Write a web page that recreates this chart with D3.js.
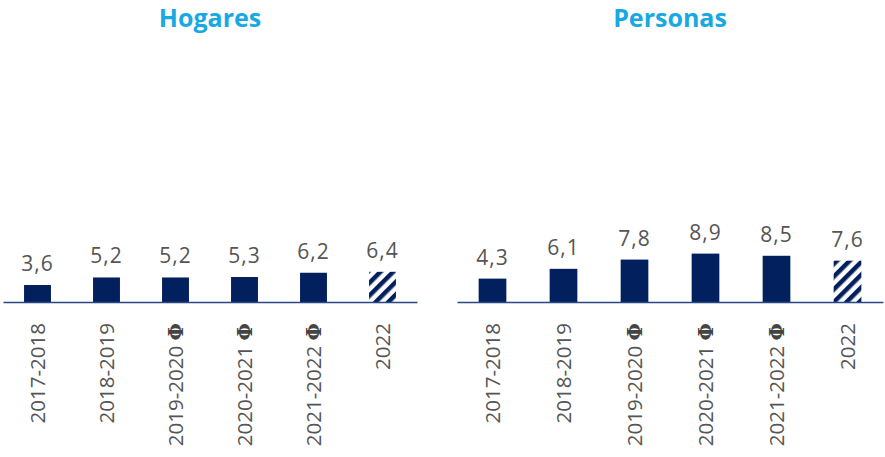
<!DOCTYPE html>
<html>
<head>
<meta charset="utf-8">
<script src="https://cdn.jsdelivr.net/npm/d3@7"></script>
<style>
  body { margin: 0; background: #fff; }
  text { font-family: "Open Sans", "Noto Sans", sans-serif; }
</style>
</head>
<body>
<svg width="885" height="457"></svg>
<script>
const categories = ["2017-2018", "2018-2019", "2019-2020 Φ", "2020-2021 Φ", "2021-2022 Φ", "2022"];
const hogares = [3.6, 5.2, 5.2, 5.3, 6.2, 6.4];
const personas = [4.3, 6.1, 7.8, 8.9, 8.5, 7.6];
const hatched = ["2022"];

const navy = "#03205e",
      titleColor = "#18a9e3",
      textColor = "#555555";

const svg = d3.select("svg");
const baseline = 302;

// diagonal stripes for the last (provisional) year
svg.append("defs").append("pattern")
    .attr("id", "hatch")
    .attr("patternUnits", "userSpaceOnUse")
    .attr("width", 9)
    .attr("height", 9)
    .attr("patternTransform", "rotate(45)")
    .append("rect")
    .attr("width", 4.5)
    .attr("height", 9)
    .attr("fill", navy);

const fmt = v => d3.format(".1f")(v).replace(".", ",");

function panel(title, values, x0, x1, yMax) {
    const g = svg.append("g");

    const x = d3.scaleBand()
        .domain(categories)
        .range([x0, x1])
        .paddingInner(0.61)
        .paddingOuter(0.305);

    const y = d3.scaleLinear()
        .domain([0, yMax])
        .range([baseline, 60]);

    g.append("text")
        .attr("x", (x0 + x1) / 2)
        .attr("y", 27)
        .attr("text-anchor", "middle")
        .style("font-size", "25px")
        .style("font-weight", "bold")
        .style("fill", titleColor)
        .text(title);

    g.selectAll(".bar")
        .data(values)
        .join("rect")
        .attr("class", "bar")
        .attr("x", (d, i) => x(categories[i]))
        .attr("y", d => y(d))
        .attr("width", x.bandwidth())
        .attr("height", d => baseline - y(d))
        .attr("fill", (d, i) => hatched.includes(categories[i]) ? "url(#hatch)" : navy);

    g.selectAll(".val")
        .data(values)
        .join("text")
        .attr("class", "val")
        .attr("x", (d, i) => x(categories[i]) + x.bandwidth() / 2)
        .attr("y", d => y(d) - 14)
        .attr("text-anchor", "middle")
        .style("font-size", "21px")
        .style("letter-spacing", "1px")
        .style("fill", textColor)
        .text(fmt);

    const axis = g.append("g")
        .attr("transform", `translate(0,${baseline})`)
        .call(d3.axisBottom(x).tickSize(0).tickSizeOuter(0));

    axis.select(".domain")
        .attr("stroke", "#2a4786")
        .attr("stroke-width", 1.5);

    axis.selectAll(".tick text")
        .attr("transform", "rotate(-90)")
        .attr("text-anchor", "end")
        .attr("x", -21)
        .attr("y", 0)
        .attr("dy", "0.38em")
        .style("font-size", "20.5px")
        .style("font-family", "'Open Sans', sans-serif")
        .style("fill", textColor)
        .each(function(d) {
            if (!d.endsWith(" Φ")) return;
            const t = d3.select(this).text(d.replace(" Φ", " "));
            t.append("tspan")
                .style("font-family", "'DejaVu Serif', serif")
                .style("font-size", "20px")
                .style("font-weight", "bold")
                .style("fill", "#444")
                .text("Φ");
        });
}

panel("Hogares", hogares, 3, 417, 51.3);
panel("Personas", personas, 457, 883, 44.5);
</script>
</body>
</html>
